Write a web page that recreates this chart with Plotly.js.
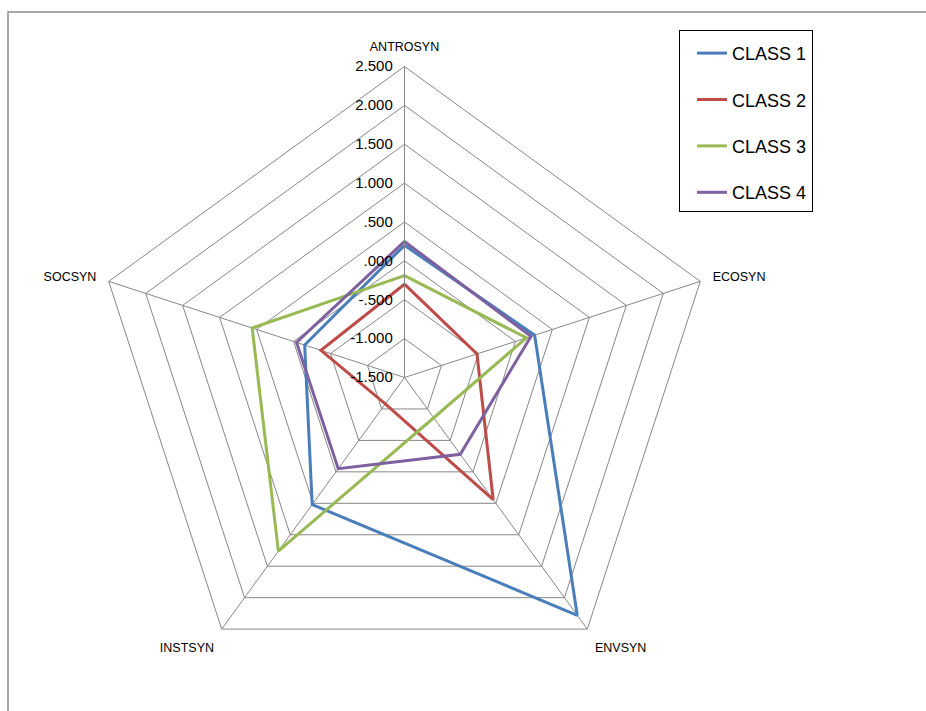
<!DOCTYPE html>
<html>
<head>
<meta charset="utf-8">
<script src="https://cdn.plot.ly/plotly-3.0.1.min.js"></script>
<style>html,body{margin:0;padding:0;background:#fff;}#chart{width:926px;height:711px;}</style>
</head>
<body>
<div id="chart"></div>
<script>
const categories = ["ANTROSYN", "ECOSYN", "ENVSYN", "INSTSYN", "SOCSYN"];
const seriesNames = ["CLASS 1", "CLASS 2", "CLASS 3", "CLASS 4"];
const class1 = [0.20, 0.26, 2.28, 0.52, -0.15];
const class2 = [-0.30, -0.52, 0.44, -1.08, -0.37];
const class3 = [-0.19, 0.15, -0.86, 1.26, 0.56];
const class4 = [0.25, 0.21, -0.28, -0.05, -0.04];
const tickValues = [-1.5, -1.0, -0.5, 0.0, 0.5, 1.0, 1.5, 2.0, 2.5];
const tickLabels = ["-1.500", "-1.000", "-.500", ".000", ".500", "1.000", "1.500", "2.000", "2.500"];
const colors = ["#4A7EBB", "#BE4B48", "#98B954", "#7D60A0"];

const allSeries = [class1, class2, class3, class4];
const traces = allSeries.map((vals, i) => ({
  type: "scatterpolar",
  mode: "lines",
  r: vals.concat([vals[0]]),
  theta: categories.concat([categories[0]]),
  name: seriesNames[i],
  legendgroup: "g" + i,
  line: {color: colors[i], width: 3},
  hoverinfo: "skip"
}));

const W = 926, H = 711;
const cx = 404.5, cy = 377.5, R = 311;

const layout = {
  width: W, height: H,
  margin: {l: 0, r: 0, t: 0, b: 0},
  paper_bgcolor: "#ffffff",
  showlegend: true,
  font: {family: "Liberation Sans, Arial, sans-serif", color: "#000"},
  polar: {
    domain: {x: [(cx - R) / W, (cx + R) / W], y: [1 - (cy + R) / H, 1 - (cy - R) / H]},
    gridshape: "linear",
    bgcolor: "rgba(0,0,0,0)",
    angularaxis: {
      direction: "clockwise",
      rotation: 90,
      type: "category",
      categoryorder: "array",
      categoryarray: categories,
      showline: true,
      linecolor: "#868686",
      linewidth: 1,
      gridcolor: "#868686",
      gridwidth: 1,
      ticks: "outside",
      ticklen: 10,
      tickcolor: "rgba(0,0,0,0)",
      tickfont: {size: 12.5, family: "Liberation Sans, Arial, sans-serif", color: "#000"}
    },
    radialaxis: {
      range: [-1.5, 2.5],
      angle: 90,
      side: "counterclockwise",
      tickangle: 90,
      tickmode: "array",
      tickvals: tickValues,
      ticktext: tickLabels,
      showline: true,
      linecolor: "#868686",
      linewidth: 1,
      gridcolor: "#868686",
      gridwidth: 1,
      ticks: "outside",
      ticklen: 6,
      tickcolor: "rgba(0,0,0,0)",
      tickfont: {size: 15, family: "Liberation Sans, Arial, sans-serif", color: "#000"}
    }
  },
  legend: {
    x: 679 / W, y: 1 - 30 / H,
    xanchor: "left", yanchor: "top",
    bordercolor: "#000", borderwidth: 1,
    bgcolor: "#fff",
    tracegroupgap: 20,
    indentation: 12,
    title: {text: " ", font: {size: 3}},
    font: {size: 18, family: "Liberation Sans, Arial, sans-serif", color: "#000"}
  },
  shapes: [{
    type: "rect", xref: "paper", yref: "paper",
    x0: 8 / W, x1: 1.05, y0: -0.05, y1: 1 - 12 / H,
    line: {color: "#8c8c8c", width: 1.5}
  }]
};

Plotly.newPlot("chart", traces, layout, {staticPlot: true, displayModeBar: false});
</script>
</body>
</html>
